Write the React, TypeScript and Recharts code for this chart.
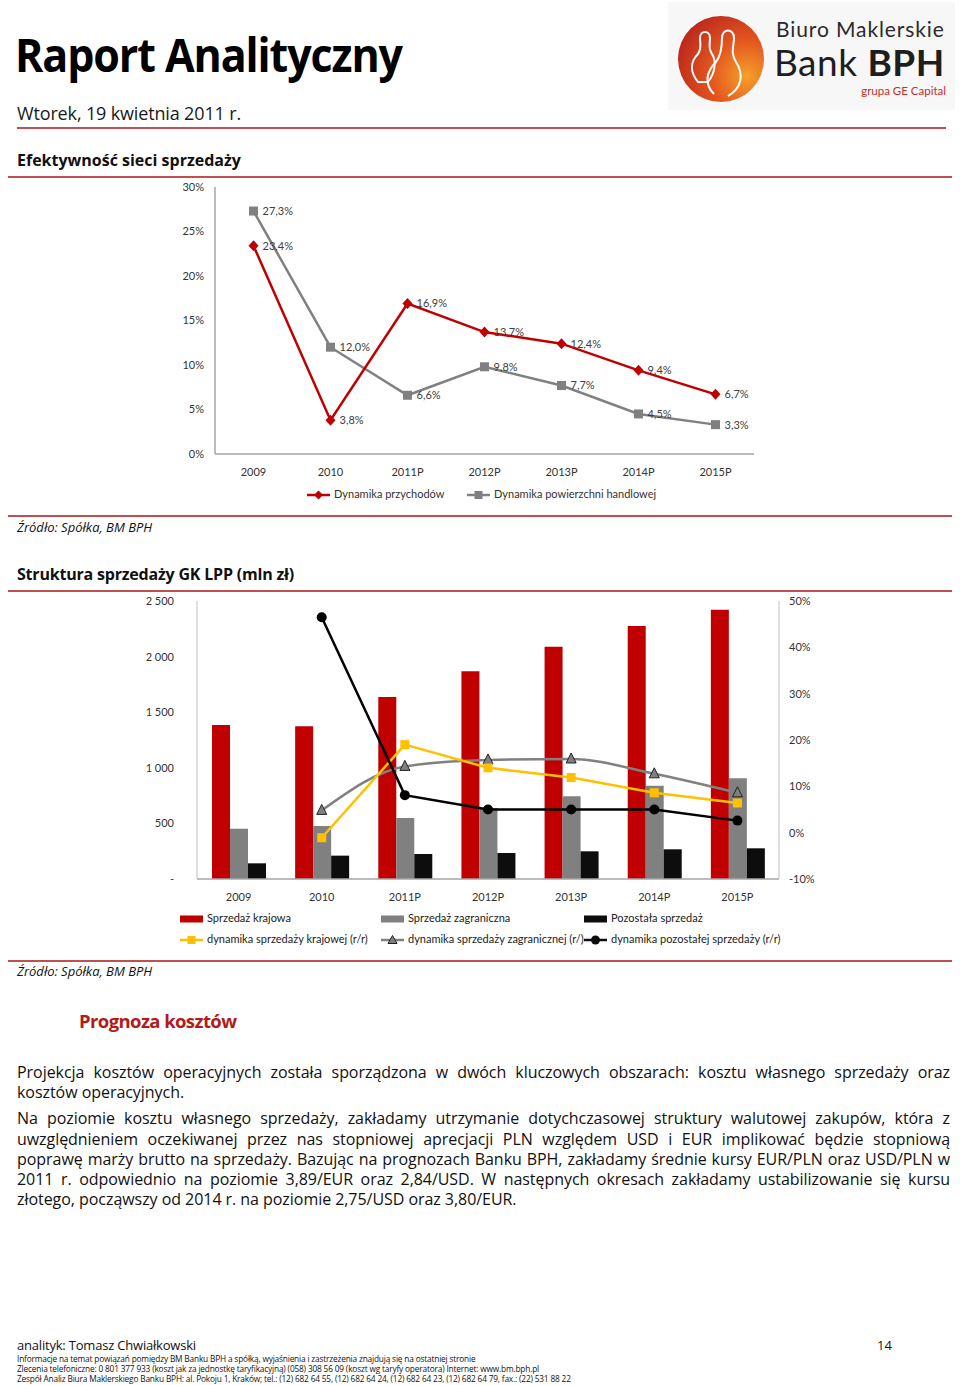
import React from "react";
import { LineChart, Line, XAxis, YAxis, ComposedChart, Bar, LabelList } from "recharts";

// chart 1: Efektywność sieci sprzedaży
const years = ["2009", "2010", "2011P", "2012P", "2013P", "2014P", "2015P"];
const revenueGrowth = [23.4, 3.8, 16.9, 13.7, 12.4, 9.4, 6.7];
const floorGrowth = [27.3, 12.0, 6.6, 9.8, 7.7, 4.5, 3.3];
const pctTicks = [0, 5, 10, 15, 20, 25, 30];

// chart 2: Struktura sprzedaży GK LPP (mln zł)
const domesticSales = [1385, 1373, 1637, 1868, 2089, 2275, 2422];
const foreignSales = [452, 477, 549, 638, 744, 839, 905];
const otherSales = [141, 210, 225, 234, 249, 267, 276];
const domesticGrowth = [null, -1.1, 19.0, 14.0, 11.9, 8.6, 6.4];
const foreignGrowth = [null, 4.8, 14.3, 15.7, 15.9, 12.7, 8.6];
const otherGrowth = [null, 46.5, 8.1, 5.0, 5.0, 5.0, 2.6];
const salesTicks = [0, 500, 1000, 1500, 2000, 2500];
const growthTicks = [-10, 0, 10, 20, 30, 40, 50];

const RED = "#c00000";
const GRAY = "#808080";
const BLACK = "#0d0d0d";
const YELLOW = "#ffc000";
const RULE = "#c0504d";
const FONT = "Lato, 'Open Sans', sans-serif";
const HEAD = "'Open Sans', Lato, sans-serif";

// body text, broken as in the report
const para1 = [
  "Projekcja kosztów operacyjnych została sporządzona w dwóch kluczowych obszarach: kosztu własnego sprzedaży oraz",
  "kosztów operacyjnych.",
];
const para2 = [
  "Na poziomie kosztu własnego sprzedaży, zakładamy utrzymanie dotychczasowej struktury walutowej zakupów, która z",
  "uwzględnieniem oczekiwanej przez nas stopniowej aprecjacji PLN względem USD i EUR implikować będzie stopniową",
  "poprawę marży brutto na sprzedaży. Bazując na prognozach Banku BPH, zakładamy średnie kursy EUR/PLN oraz USD/PLN w",
  "2011 r. odpowiednio na poziomie 3,89/EUR oraz 2,84/USD. W następnych okresach zakładamy ustabilizowanie się kursu",
  "złotego, począwszy od 2014 r. na poziomie 2,75/USD oraz 3,80/EUR.",
];

const chart1Data = years.map((y, i) => ({ year: y, rev: revenueGrowth[i], floor: floorGrowth[i] }));
const chart2Data = years.map((y, i) => ({
  year: y,
  dom: domesticSales[i],
  for: foreignSales[i],
  oth: otherSales[i],
  domG: domesticGrowth[i],
  forG: foreignGrowth[i],
  othG: otherGrowth[i],
}));

const pctLabel = (v: any) => (v == null ? "" : v.toFixed(1).replace(".", ",") + "%");
const salesFmt = (v: number) => (v === 0 ? "-" : v >= 1000 ? `${Math.floor(v / 1000)} ${String(v % 1000).padStart(3, "0")}` : String(v));

const mk = (shape: string, fill: string, stroke?: string) => (p: any) => {
  const { cx, cy, key, index } = p;
  const k = key ?? `${shape}-${index}`;
  if (cx == null || cy == null || p.value == null) return <g key={k} />;
  if (shape === "diamond")
    return <path key={k} d={`M${cx},${cy - 5.5}L${cx + 5},${cy}L${cx},${cy + 5.5}L${cx - 5},${cy}Z`} fill={fill} />;
  if (shape === "square") return <rect key={k} x={cx - 4.5} y={cy - 4.5} width={9} height={9} fill={fill} />;
  if (shape === "triangle")
    return (
      <path key={k} d={`M${cx},${cy - 6}L${cx + 5},${cy + 4}L${cx - 5},${cy + 4}Z`} fill={fill} stroke={stroke} strokeWidth={1} />
    );
  return <circle key={k} cx={cx} cy={cy} r={5} fill={fill} />;
};

const Icon = ({ kind, color, shape }: { kind: string; color: string; shape?: string }) => (
  <svg width={24} height={10} style={{ marginRight: 3, verticalAlign: "middle" }}>
    {kind === "bar" ? (
      <rect x={0} y={1.5} width={23} height={7} fill={color} />
    ) : (
      <g>
        <line x1={0} y1={5} x2={23} y2={5} stroke={color} strokeWidth={2.5} />
        {shape === "diamond" && <path d="M11.5,0.5L16,5L11.5,9.5L7,5Z" fill={color} />}
        {shape === "square" && <rect x={7.5} y={1} width={8} height={8} fill={color} />}
        {shape === "triangle" && <path d="M11.5,0.5L16,8.5L7,8.5Z" fill={color} stroke="#222" strokeWidth={1} />}
        {shape === "circle" && <circle cx={11.5} cy={5} r={4.5} fill={color} />}
      </g>
    )}
  </svg>
);

const legend1 = [
  { name: "Dynamika przychodów", color: RED, shape: "diamond", x: 307 },
  { name: "Dynamika powierzchni handlowej", color: GRAY, shape: "square", x: 467 },
];
const legend2 = [
  { name: "Sprzedaż krajowa", color: RED, kind: "bar", x: 180, y: 918 },
  { name: "Sprzedaż zagraniczna", color: GRAY, kind: "bar", x: 381, y: 918 },
  { name: "Pozostała sprzedaż", color: BLACK, kind: "bar", x: 584, y: 918 },
  { name: "dynamika sprzedaży krajowej (r/r)", color: YELLOW, kind: "line", shape: "square", x: 180, y: 939 },
  { name: "dynamika sprzedaży zagranicznej (r/)", color: GRAY, kind: "line", shape: "triangle", x: 381, y: 939 },
  { name: "dynamika pozostałej sprzedaży (r/r)", color: BLACK, kind: "line", shape: "circle", x: 584, y: 939 },
];

const abs = (x: number, y: number, extra: React.CSSProperties = {}): React.CSSProperties => ({
  position: "absolute",
  left: x,
  top: y,
  ...extra,
});

const Rule = ({ y, x1 = 8, x2 = 952, w = 1.5 }: { y: number; x1?: number; x2?: number; w?: number }) => (
  <div style={abs(x1, y, { width: x2 - x1, height: w, background: RULE })} />
);

const Para = ({ lines, gap }: { lines: string[]; gap: number }) => (
  <div style={{ marginBottom: gap }}>
    {lines.map((t, i) => (
      <div key={i} style={{ textAlign: "justify", textAlignLast: i < lines.length - 1 ? "justify" : "left", whiteSpace: "nowrap" }}>
        {t}
      </div>
    ))}
  </div>
);

const Logo = () => (
  <div style={abs(668, 2, { width: 287, height: 108, background: "#f7f7f7" })}>
    <svg width={287} height={108}>
      <defs>
        <radialGradient id="lg" cx="80%" cy="70%" r="90%">
          <stop offset="0%" stopColor="#f6a02a" />
          <stop offset="45%" stopColor="#e4581f" />
          <stop offset="100%" stopColor="#b8231c" />
        </radialGradient>
      </defs>
      <circle cx={53} cy={57} r={43} fill="url(#lg)" />
      <g fill="none" stroke="#fff" strokeWidth={2}>
        <path d="M30,80 C22,70 22,60 30,52 C34,46 32,40 32,36 C32,28 42,28 42,36 C42,42 40,46 44,52 C48,58 48,70 40,80 Z" />
        <path d="M46,92 C36,82 38,70 48,60 C54,52 54,42 54,36 C54,26 66,26 66,36 C66,44 62,50 68,60 C76,72 74,86 60,94" />
      </g>
      <text x={108} y={35} fontFamily={FONT} fontSize={21} letterSpacing={0.9} fill="#2a2a2a">Biuro Maklerskie</text>
      <text x={106} y={73.5} fontFamily={FONT} fontSize={37} fill="#1e1e1e" letterSpacing={0.5}>
        Bank <tspan fontWeight={700}>BPH</tspan>
      </text>
      <text x={278} y={93} textAnchor="end" fontFamily={FONT} fontSize={11.5} fill="#c6302c">grupa GE Capital</text>
    </svg>
  </div>
);

export default function App() {
  return (
    <div style={{ position: "absolute", left: 0, top: 0, width: 960, height: 1385, background: "#fff", color: "#111", fontFamily: HEAD }}>
      <div style={abs(15, 22, { fontSize: 47, fontWeight: 700, letterSpacing: -1.2, transform: "scaleX(0.915)", transformOrigin: "left", color: "#000" })}>
        Raport Analityczny
      </div>
      <Logo />
      <div style={abs(17, 101, { fontSize: 18, letterSpacing: -0.15, color: "#1a1a1a" })}>Wtorek, 19 kwietnia 2011 r.</div>
      <Rule y={127} x1={17} x2={946} w={2} />
      <div style={abs(17, 149, { fontSize: 16, fontWeight: 700, letterSpacing: 0 })}>Efektywność sieci sprzedaży</div>
      <Rule y={176} />

      <div style={abs(0, 180)}>
        <LineChart width={960} height={330} data={chart1Data} margin={{ top: 7, right: 206, bottom: 26, left: 175 }}>
          <XAxis dataKey="year" tickLine={false} tickSize={0} tickMargin={14} padding={{ left: 38.5, right: 38.5 }}
            axisLine={{ stroke: "#a6a6a6", strokeWidth: 1.5 }} tick={{ fontSize: 11, fill: "#333", fontFamily: FONT }} />
          <YAxis width={40} domain={[0, 30]} ticks={pctTicks} tickFormatter={(v) => `${v}%`} tickLine={false} tickSize={0} tickMargin={11}
            axisLine={{ stroke: "#a6a6a6", strokeWidth: 1.5 }} tick={{ fontSize: 11, fill: "#333", fontFamily: FONT }} />
          <Line dataKey="floor" stroke={GRAY} strokeWidth={2.5} dot={mk("square", GRAY)} isAnimationActive={false}>
            <LabelList dataKey="floor" position="right" offset={9} formatter={pctLabel} style={{ fontSize: 11, fill: "#404040", fontFamily: FONT }} />
          </Line>
          <Line dataKey="rev" stroke={RED} strokeWidth={2.5} dot={mk("diamond", RED)} isAnimationActive={false}>
            <LabelList dataKey="rev" position="right" offset={9} formatter={pctLabel} style={{ fontSize: 11, fill: "#404040", fontFamily: FONT }} />
          </Line>
        </LineChart>
      </div>
      {legend1.map((l) => (
        <div key={l.name} style={abs(l.x, 487, { fontSize: 11, fontFamily: FONT, color: "#333", whiteSpace: "nowrap", lineHeight: "14px" })}>
          <Icon kind="line" color={l.color} shape={l.shape} />
          {l.name}
        </div>
      ))}

      <Rule y={515} />
      <div style={abs(17, 518, { fontSize: 13, fontStyle: "italic", letterSpacing: 0 })}>Źródło: Spółka, BM BPH</div>
      <div style={abs(17, 563, { fontSize: 16, fontWeight: 700, letterSpacing: -0.2 })}>Struktura sprzedaży GK LPP (mln zł)</div>
      <Rule y={590} />

      <div style={abs(0, 595)}>
        <ComposedChart width={960} height={320} data={chart2Data} barGap={0} barSize={18} margin={{ top: 6, right: 141, bottom: 6, left: 157 }}>
          <XAxis dataKey="year" tickLine={false} tickSize={0} tickMargin={14} axisLine={{ stroke: "#a6a6a6", strokeWidth: 1.5 }}
            tick={{ fontSize: 11, fill: "#333", fontFamily: FONT }} />
          <YAxis yAxisId="l" width={40} domain={[0, 2500]} ticks={salesTicks} tickFormatter={salesFmt} tickLine={false} tickSize={0}
            tickMargin={23} axisLine={{ stroke: "#bfbfbf", strokeWidth: 1 }} tick={{ fontSize: 11, fill: "#333", fontFamily: FONT }} />
          <YAxis yAxisId="r" orientation="right" width={40} domain={[-10, 50]} ticks={growthTicks} tickFormatter={(v) => `${v}%`}
            tickLine={false} tickSize={0} tickMargin={10} axisLine={{ stroke: "#bfbfbf", strokeWidth: 1 }}
            tick={{ fontSize: 11, fill: "#333", fontFamily: FONT, textAnchor: "start" }} />
          <Bar yAxisId="l" dataKey="dom" fill={RED} isAnimationActive={false} />
          <Bar yAxisId="l" dataKey="for" fill={GRAY} isAnimationActive={false} />
          <Bar yAxisId="l" dataKey="oth" fill={BLACK} isAnimationActive={false} />
          <Line yAxisId="r" dataKey="forG" type="monotone" stroke={GRAY} strokeWidth={2.5} dot={mk("triangle", GRAY, "#222")} isAnimationActive={false} />
          <Line yAxisId="r" dataKey="domG" stroke={YELLOW} strokeWidth={2.5} dot={mk("square", YELLOW)} isAnimationActive={false} />
          <Line yAxisId="r" dataKey="othG" stroke="#000" strokeWidth={2.5} dot={mk("circle", "#000")} isAnimationActive={false} />
        </ComposedChart>
      </div>
      {legend2.map((l) => (
        <div key={l.name} style={abs(l.x, l.y - 7, { fontSize: 11, fontFamily: FONT, color: "#222", whiteSpace: "nowrap", lineHeight: "14px" })}>
          <Icon kind={l.kind} color={l.color} shape={l.shape} />
          {l.name}
        </div>
      ))}

      <Rule y={960} />
      <div style={abs(17, 962, { fontSize: 13, fontStyle: "italic", letterSpacing: 0 })}>Źródło: Spółka, BM BPH</div>

      <div style={abs(79, 1008, { fontSize: 18.5, fontWeight: 700, color: "#b31b1b", letterSpacing: -0.6 })}>Prognoza kosztów</div>
      <div style={abs(17, 1062, { width: 933, fontSize: 16, lineHeight: "20.3px", letterSpacing: -0.05, color: "#111" })}>
        <Para lines={para1} gap={5.7} />
        <Para lines={para2} gap={0} />
      </div>

      <div style={abs(17, 1338, { fontSize: 13, lineHeight: "14px", letterSpacing: -0.2 })}>analityk: Tomasz Chwiałkowski</div>
      <div style={abs(877, 1338, { fontSize: 13, lineHeight: "14px" })}>14</div>
      <div style={abs(17, 1354, { fontSize: 8.3, lineHeight: "9.8px", letterSpacing: -0.17, whiteSpace: "nowrap" })}>
        <div>Informacje na temat powiązań pomiędzy BM Banku BPH a spółką, wyjaśnienia i zastrzeżenia znajdują się na ostatniej stronie</div>
        <div>Zlecenia telefoniczne: 0 801 377 933 (koszt jak za jednostkę taryfikacyjną) (058) 308 56 09 (koszt wg taryfy operatora) Internet: www.bm.bph.pl</div>
        <div>Zespół Analiz Biura Maklerskiego Banku BPH: al. Pokoju 1, Kraków; tel.: (12) 682 64 55, (12) 682 64 24, (12) 682 64 23, (12) 682 64 79, fax.: (22) 531 88 22</div>
      </div>
    </div>
  );
}
